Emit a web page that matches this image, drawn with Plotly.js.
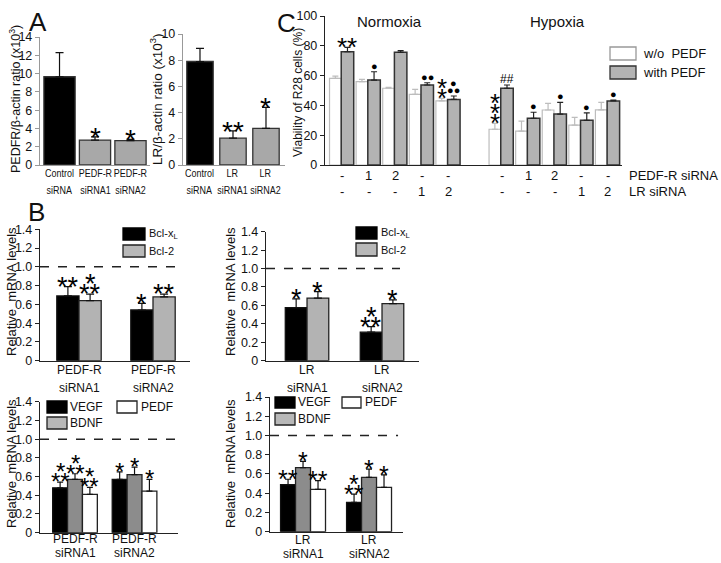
<!DOCTYPE html>
<html><head><meta charset="utf-8">
<script src="https://cdn.plot.ly/plotly-3.0.1.min.js"></script>
<style>html,body{margin:0;padding:0;background:#fff}#chart{width:721px;height:563px}</style>
</head><body><div id="chart"></div>
<script>
// ---------- DATA ----------
// Panel A (left): PEDFR/beta-actin
const aCats1 = ['Control<br>siRNA', 'PEDF-R<br>siRNA1', 'PEDF-R<br>siRNA2'];
const aVals1 = [9.65, 2.73, 2.66];
const aErr1 = [2.65, 0.35, 0.14];
const aMarks1 = ['', '*', '*'];
// Panel A (right): LR/beta-actin
const aCats2 = ['Control<br>siRNA', 'LR<br>siRNA1', 'LR<br>siRNA2'];
const aVals2 = [7.9, 2.05, 2.8];
const aErr2 = [1.0, 0.55, 1.6];
const aMarks2 = ['', '**', '*'];
// Panel C: viability
const cPedfRRow = ['-', '1', '2', '-', '-', '', '-', '1', '2', '-', '-'];
const cLrRow    = ['-', '-', '-', '1', '2', '', '-', '-', '-', '1', '2'];
const cWithout    = [58.2, 56, 51.5, 47.4, 43, null, 24, 22.8, 36.9, 26.8, 37];
const cWithoutErr = [1.5, 1.5, 0.6, 3.4, 1.7, null, 4, 6.7, 4.5, 5.2, 5];
const cWith       = [76, 57, 75.6, 53.7, 44, null, 51.5, 31.3, 34.2, 30, 43];
const cWithErr    = [3, 5.6, 1.1, 1.5, 2.3, null, 2.2, 4.1, 7.8, 5, 0.6];
const cMarksWithout = ['', '', '', '', '*|*', '', '*|*|*', '', '', '', ''];
const cMarksWith    = ['**', '●', '', '●●', '●|●●', '', '##', '●', '●', '●', '●'];
// Panel B top-left
const b1Cats = ['PEDF-R<br>siRNA1', 'PEDF-R<br>siRNA2'];
const b1Bclxl = [0.69, 0.54], b1BclxlErr = [0.10, 0.07], b1BclxlMarks = ['**', '*'];
const b1Bcl2 = [0.64, 0.68], b1Bcl2Err = [0.07, 0.03], b1Bcl2Marks = ['*|**', '**'];
// Panel B top-right
const b2Cats = ['LR<br>siRNA1', 'LR<br>siRNA2'];
const b2Bclxl = [0.576, 0.31], b2BclxlErr = [0.094, 0.06], b2BclxlMarks = ['*', '*|**'];
const b2Bcl2 = [0.68, 0.62], b2Bcl2Err = [0.07, 0.04], b2Bcl2Marks = ['*', '*'];
// Panel B bottom-left
const b3Cats = ['PEDF-R<br>siRNA1', 'PEDF-R<br>siRNA2'];
const b3Vegf = [0.48, 0.57], b3VegfErr = [0.06, 0.08], b3VegfMarks = ['*|**', '*'];
const b3Bdnf = [0.57, 0.62], b3BdnfErr = [0.06, 0.08], b3BdnfMarks = ['*|**', '*'];
const b3Pedf = [0.41, 0.445], b3PedfErr = [0.075, 0.125], b3PedfMarks = ['*|**', '*'];
// Panel B bottom-right
const b4Cats = ['LR<br>siRNA1', 'LR<br>siRNA2'];
const b4Vegf = [0.49, 0.305], b4VegfErr = [0.055, 0.085], b4VegfMarks = ['**', '*|**'];
const b4Bdnf = [0.665, 0.565], b4BdnfErr = [0.065, 0.085], b4BdnfMarks = ['*', '*'];
const b4Pedf = [0.44, 0.46], b4PedfErr = [0.09, 0.13], b4PedfMarks = ['**', '*'];
const bTickVals = [0, 0.2, 0.4, 0.6, 0.8, 1.0, 1.2, 1.4];
const bTickText = ['0', '0.2', '0.4', '0.6', '0.8', '1.0', '1.2', '1.4'];

// ---------- HELPERS ----------
const W = 721, H = 563;
const FONT = 'Arial, "Liberation Sans", sans-serif';
const xd = (a, b) => [a / W, b / W];
const yd = (top, bot) => [1 - bot / H, 1 - top / H];
const px = v => v / W, py = v => 1 - v / H;
const idx = arr => arr.map((_, i) => i);

const traces = [];
const annotations = [];
const shapes = [];
const condensed = new Set();   // annotation indices drawn in a condensed face (panel A labels)

function bar(xa, ya, y, err, offset, width, fill, line, errColor, lw, capw) {
  traces.push({
    type: 'bar', x: idx(y), y: y, xaxis: xa, yaxis: ya,
    offset: offset, width: width,
    marker: {color: fill, line: {color: line, width: lw || 1.3}},
    error_y: {type: 'data', symmetric: false, array: err, arrayminus: err.map(() => 0),
      color: errColor || '#111', thickness: 1.2, width: capw || 3},
    hoverinfo: 'skip', showlegend: false
  });
}
function marks(xa, ya, y, err, specs, xoff, starSize) {
  specs.forEach((spec, i) => {
    if (!spec) return;
    const lines = spec.split('|');
    const n = lines.length;
    lines.forEach((t, j) => {
      const k = n - 1 - j;
      const isStar = t.indexOf('*') >= 0;
      const isHash = t.indexOf('#') >= 0;
      const size = isStar ? starSize : (isHash ? 12 : 11);
      const step = isStar ? 10 : 7.5;
      const comp = isStar ? 0.23 * size : 0;
      annotations.push({
        xref: xa, yref: ya, x: i + xoff, y: y[i] + (err[i] || 0),
        text: t, showarrow: false, xanchor: 'center', yanchor: 'middle',
        yshift: 6 + k * step - comp,
        font: {family: FONT, size: size, color: '#000'}
      });
    });
  });
}
function catLabels(xa, cats, y1, y2, size, narrow) {
  cats.forEach((c, i) => {
    c.split('<br>').forEach((t, j) => {
      if (narrow) condensed.add(annotations.length);
      annotations.push({xref: xa, yref: 'paper', x: i, y: py(j === 0 ? y1 : y2), text: t,
        showarrow: false, xanchor: 'center', yanchor: 'middle',
        font: {family: FONT, size: size, color: '#111'}});
    });
  });
}
function txt(x, y, t, size, opts) {
  annotations.push(Object.assign({xref: 'paper', yref: 'paper', x: px(x), y: py(y), text: t,
    showarrow: false, xanchor: 'center', yanchor: 'middle',
    font: {family: FONT, size: size, color: '#111'}}, opts || {}));
}
function box(x0, y0, x1, y1, fill, line) {
  shapes.push({type: 'rect', xref: 'paper', yref: 'paper', x0: px(x0), x1: px(x1), y0: py(y1), y1: py(y0),
    fillcolor: fill, line: {color: line, width: 1.3}});
}
function xax(dom, anchor, range, lc) {
  return {domain: dom, anchor: anchor, range: range, showgrid: false, zeroline: false,
    showline: true, linecolor: lc || '#222', linewidth: 1.2, ticks: '', showticklabels: false,
    fixedrange: true};
}
function yax(dom, anchor, range, tv, tt, fs, lc) {
  return {domain: dom, anchor: anchor, range: range, showgrid: false, zeroline: false,
    showline: true, linecolor: lc || '#222', linewidth: 1.2, ticks: 'outside', ticklen: 4,
    tickcolor: lc || '#222', tickvals: tv, ticktext: tt,
    tickfont: {family: FONT, size: fs || 12, color: '#111'},
    fixedrange: true};
}

// ---------- PANEL A ----------
bar('x', 'y', aVals1, aErr1, -0.44, 0.88, ['#000', '#a8a8a8', '#a8a8a8'], '#333', '#111', 1.3, 4);
marks('x', 'y', aVals1, aErr1, aMarks1, 0, 28);
catLabels('x', aCats1, 173, 190, 11.5, true);
bar('x2', 'y2', aVals2, aErr2, -0.4, 0.8, ['#000', '#a8a8a8', '#a8a8a8'], '#333', '#111', 1.3, 4);
marks('x2', 'y2', aVals2, aErr2, aMarks2, 0, 28);
catLabels('x2', aCats2, 173, 190, 11.5, true);

// ---------- PANEL C ----------
bar('x3', 'y3', cWithout, cWithoutErr, -0.47, 0.44, '#fff', '#bdbdbd', '#bdbdbd', 1.2, 3);
bar('x3', 'y3', cWith, cWithErr, -0.03, 0.47, '#b3b3b3', '#333', '#222', 1.5, 3);
marks('x3', 'y3', cWithout, cWithoutErr, cMarksWithout, -0.25, 26);
marks('x3', 'y3', cWith, cWithErr, cMarksWith, 0.205, 26);
[[cPedfRRow, 176], [cLrRow, 191]].forEach(r => r[0].forEach((t, i) => {
  if (!t) return;
  annotations.push({xref: 'x3', yref: 'paper', x: i, y: py(r[1]), text: t, xanchor: 'center', yanchor: 'middle',
    showarrow: false, font: {family: FONT, size: 13, color: '#111'}});
}));

// ---------- PANEL B ----------
bar('x4', 'y4', b1Bclxl, b1BclxlErr, -0.3, 0.3, '#000', '#111', '#111', 1.3, 4);
bar('x4', 'y4', b1Bcl2, b1Bcl2Err, 0, 0.3, '#b3b3b3', '#222', '#111', 1.3, 4);
marks('x4', 'y4', b1Bclxl, b1BclxlErr, b1BclxlMarks, -0.15, 27);
marks('x4', 'y4', b1Bcl2, b1Bcl2Err, b1Bcl2Marks, 0.15, 27);
catLabels('x4', b1Cats, 370, 388, 12);

bar('x5', 'y5', b2Bclxl, b2BclxlErr, -0.29, 0.29, '#000', '#111', '#111', 1.3, 4);
bar('x5', 'y5', b2Bcl2, b2Bcl2Err, 0, 0.29, '#b3b3b3', '#222', '#111', 1.3, 4);
marks('x5', 'y5', b2Bclxl, b2BclxlErr, b2BclxlMarks, -0.145, 27);
marks('x5', 'y5', b2Bcl2, b2Bcl2Err, b2Bcl2Marks, 0.145, 27);
catLabels('x5', b2Cats, 370, 388, 12);

bar('x6', 'y6', b3Vegf, b3VegfErr, -0.375, 0.25, '#000', '#111', '#111', 1.3, 3);
bar('x6', 'y6', b3Bdnf, b3BdnfErr, -0.125, 0.25, '#8c8c8c', '#222', '#111', 1.3, 3);
bar('x6', 'y6', b3Pedf, b3PedfErr, 0.125, 0.25, '#fff', '#222', '#111', 1.3, 3);
marks('x6', 'y6', b3Vegf, b3VegfErr, b3VegfMarks, -0.25, 24);
marks('x6', 'y6', b3Bdnf, b3BdnfErr, b3BdnfMarks, 0, 24);
marks('x6', 'y6', b3Pedf, b3PedfErr, b3PedfMarks, 0.25, 24);
catLabels('x6', b3Cats, 538.5, 553, 12);

bar('x7', 'y7', b4Vegf, b4VegfErr, -0.34, 0.227, '#000', '#111', '#111', 1.3, 3);
bar('x7', 'y7', b4Bdnf, b4BdnfErr, -0.113, 0.227, '#8c8c8c', '#222', '#111', 1.3, 3);
bar('x7', 'y7', b4Pedf, b4PedfErr, 0.114, 0.227, '#fff', '#222', '#111', 1.3, 3);
marks('x7', 'y7', b4Vegf, b4VegfErr, b4VegfMarks, -0.227, 25);
marks('x7', 'y7', b4Bdnf, b4BdnfErr, b4BdnfMarks, 0, 25);
marks('x7', 'y7', b4Pedf, b4PedfErr, b4PedfMarks, 0.227, 25);
catLabels('x7', b4Cats, 540, 554, 12);

// dashed reference lines at 1.0
[['x4', 'y4', -0.527, 1.32], ['x5', 'y5', -0.547, 1.24], ['x6', 'y6', -0.588, 1.71], ['x7', 'y7', -0.5, 1.44]]
  .forEach(d => shapes.push({type: 'line', xref: d[0], yref: d[1], x0: d[2], x1: d[3], y0: 1, y1: 1,
    line: {color: '#222', width: 1.5, dash: 'dash'}}));

// ---------- LEGENDS ----------
box(610, 47, 636, 60, '#fff', '#999');
box(610, 66, 636, 79, '#b3b3b3', '#333');
txt(641, 54, 'w/o\u00a0\u00a0PEDF', 13, {xanchor: 'left'});
txt(641, 73, 'with PEDF', 13, {xanchor: 'left'});

box(123, 228, 145, 240, '#000', '#000');
box(123, 245, 145, 257, '#b8b8b8', '#222');
txt(147, 234, 'Bcl-x<sub>L</sub>', 11, {xanchor: 'left'});
txt(147, 251, 'Bcl-2', 11, {xanchor: 'left'});

box(356, 227, 377, 239, '#000', '#000');
box(356, 243, 377, 256, '#b8b8b8', '#222');
txt(379, 233, 'Bcl-x<sub>L</sub>', 11, {xanchor: 'left'});
txt(379, 250, 'Bcl-2', 11, {xanchor: 'left'});

box(47, 401, 67, 413, '#000', '#000');
box(47, 417, 67, 429, '#b8b8b8', '#222');
box(117, 401, 137, 413, '#fff', '#222');
txt(68, 407, 'VEGF', 12, {xanchor: 'left'});
txt(68, 423, 'BDNF', 12, {xanchor: 'left'});
txt(139, 407, 'PEDF', 12, {xanchor: 'left'});

box(275, 397, 295, 408, '#000', '#000');
box(275, 413, 295, 425, '#b8b8b8', '#222');
box(342, 397, 361, 408, '#fff', '#222');
txt(296, 402, 'VEGF', 12, {xanchor: 'left'});
txt(296, 419, 'BDNF', 12, {xanchor: 'left'});
txt(363, 402, 'PEDF', 12, {xanchor: 'left'});

// ---------- TEXTS ----------
txt(38, 22, 'A', 26);
txt(36, 212, 'B', 26);
txt(286, 23, 'C', 26);
txt(389, 21, 'Normoxia', 15);
txt(557, 21, 'Hypoxia', 15);
txt(627, 175, 'PEDF-R siRNA', 13, {xanchor: 'left'});
txt(627, 191, 'LR siRNA', 13, {xanchor: 'left'});
txt(15, 99, 'PEDFR/β-actin ratio (x10<sup>3</sup>)', 12.5, {textangle: -90});
txt(156, 99, 'LR/β-actin ratio (x10<sup>3</sup>)', 13.5, {textangle: -90});
txt(298, 93, 'Viability of R28 cells (%)', 12, {textangle: -90});
txt(11, 292, 'Relative\u00a0 mRNA levels', 13, {textangle: -90});
txt(230, 292, 'Relative\u00a0 mRNA levels', 13, {textangle: -90});
txt(11, 464, 'Relative\u00a0 mRNA levels', 13, {textangle: -90});
txt(230, 464, 'Relative\u00a0 mRNA levels', 13, {textangle: -90});

// ---------- LAYOUT ----------
const layout = {
  width: W, height: H, margin: {l: 0, r: 0, t: 0, b: 0},
  paper_bgcolor: '#fff', plot_bgcolor: 'rgba(0,0,0,0)',
  barmode: 'overlay', showlegend: false,
  font: {family: FONT, color: '#111'},
  xaxis: xax(xd(40, 150), 'y', [-0.55, 2.55], '#999'),
  yaxis: yax(yd(37, 165), 'x', [0, 14], [0, 2, 4, 6, 8, 10, 12, 14], ['0', '2', '4', '6', '8', '10', '12', '14'], 12.5, '#999'),
  xaxis2: xax(xd(183, 285), 'y2', [-0.515, 2.576], '#999'),
  yaxis2: yax(yd(34, 165), 'x2', [0, 10], [0, 2, 4, 6, 8, 10], ['0', '2', '4', '6', '8', '10'], 12.5, '#999'),
  xaxis3: xax(xd(325, 622), 'y3', [-0.64, 10.53], '#222'),
  yaxis3: yax(yd(16, 165), 'x3', [0, 100], [0, 20, 40, 60, 80, 100], ['0', '20', '40', '60', '80', '100'], 12.5, '#222'),
  xaxis4: xax(xd(40, 190), 'y4', [-0.527, 1.5]),
  yaxis4: yax(yd(229.3, 360.7), 'x4', [0, 1.4], bTickVals, bTickText, 12.5),
  xaxis5: xax(xd(266, 419), 'y5', [-0.547, 1.493]),
  yaxis5: yax(yd(231.7, 360.7), 'x5', [0, 1.4], bTickVals, bTickText, 12.5),
  xaxis6: xax(xd(40, 178), 'y6', [-0.588, 1.73]),
  yaxis6: yax(yd(401.7, 532.7), 'x6', [0, 1.4], bTickVals, bTickText, 12.5),
  xaxis7: xax(xd(270, 403), 'y7', [-0.5, 1.515]),
  yaxis7: yax(yd(397, 531.7), 'x7', [0, 1.4], bTickVals, bTickText, 12.5),
  annotations: annotations, shapes: shapes
};
Plotly.newPlot('chart', traces, layout, {displayModeBar: false, staticPlot: true}).then(gd => {
  // condense the panel-A category labels horizontally (the original uses a narrow face)
  gd.querySelectorAll('g.annotation').forEach(g => {
    const i = +g.getAttribute('data-index');
    if (!condensed.has(i)) return;
    const t = g.querySelector('text.annotation-text');
    if (!t || !t.getComputedTextLength) return;
    const w = t.getComputedTextLength();
    t.setAttribute('lengthAdjust', 'spacingAndGlyphs');
    t.setAttribute('textLength', (w * 0.78).toFixed(1));
  });
});
</script></body></html>
